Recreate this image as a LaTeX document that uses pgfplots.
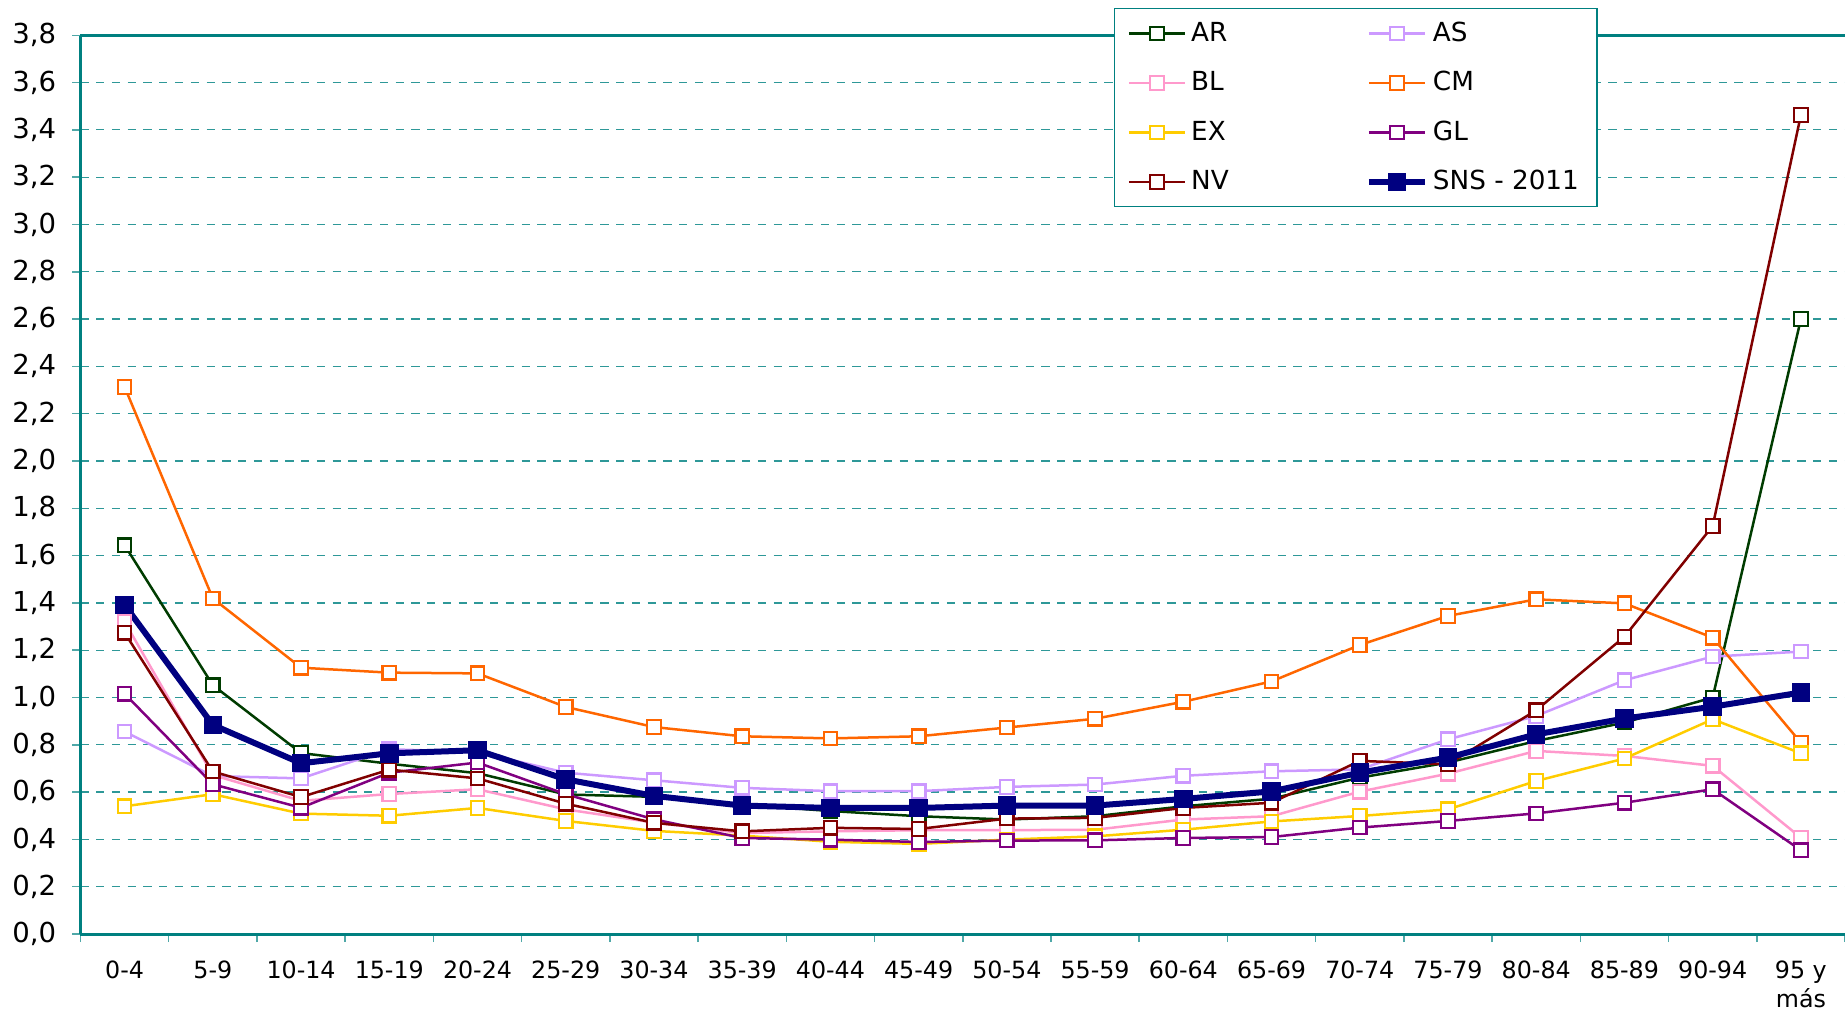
\documentclass[border=0pt]{standalone}
\usepackage{fontspec}
\setmainfont{DejaVu Sans}
\usepackage{pgfplots}
\pgfplotsset{compat=1.18}
\definecolor{axteal}{HTML}{008080}
\definecolor{gridteal}{HTML}{2E9898}
\definecolor{tickteal}{HTML}{4FA8A8}
\definecolor{cAR}{HTML}{003C00}
\definecolor{cAS}{HTML}{CC99FF}
\definecolor{cBL}{HTML}{FF99CC}
\definecolor{cCM}{HTML}{FF6600}
\definecolor{cEX}{HTML}{FFCC00}
\definecolor{cGL}{HTML}{800080}
\definecolor{cNV}{HTML}{800000}
\definecolor{cSNS}{HTML}{000080}
\pgfplotsset{
  thin series/.style={color=#1, line width=1pt, mark=square*, mark size=2.7pt,
    mark options={solid, draw=#1, fill=white, line width=0.9pt}},
}
\begin{document}
\begin{tikzpicture}
\begin{axis}[
  scale only axis, width=705.8pt, height=359.5pt,
  xmin=-0.5, xmax=19.5, ymin=0, ymax=3.8,
  axis x line*=bottom, axis y line*=left,
  axis line style={axteal, line width=1.2pt},
  xtick={0,...,19},
  xticklabels={0-4,5-9,10-14,15-19,20-24,25-29,30-34,35-39,40-44,45-49,50-54,55-59,60-64,65-69,70-74,75-79,80-84,85-89,90-94,{95 y\\más}},
  major x tick style={draw=none},
  minor xtick={-0.5,0.5,...,19.5},
  ytick={0,0.2,0.4,0.6,0.8,1,1.2,1.4,1.6,1.8,2,2.2,2.4,2.6,2.8,3,3.2,3.4,3.6,3.8},
  tick align=outside, major tick length=3.2pt, minor tick length=3.2pt,
  tick style={draw=tickteal, line width=0.6pt},
  ymajorgrids,
  major grid style={draw=gridteal, dash pattern=on 3.3pt off 3pt, line width=0.5pt},
  extra y ticks={3.8}, extra y tick labels={},
  extra y tick style={major grid style={solid, draw=axteal, line width=1.2pt}},
  /pgf/number format/use comma, /pgf/number format/fixed,
  /pgf/number format/fixed zerofill, /pgf/number format/precision=1,
  /pgf/number format/assume math mode=true,
  yticklabel style={font=\fontsize{11}{13}\selectfont, xshift=-3pt},
  xticklabel style={font=\fontsize{9.5}{11.6}\selectfont, align=center, yshift=-4pt},
  legend columns=2,
  legend style={at={(0.5857,1.0326)}, anchor=north west, draw=axteal, line width=0.6pt,
    fill=white, font=\fontsize{10.5}{12}\selectfont, inner xsep=5.2pt, inner ysep=0pt,
    row sep=0pt, column sep=0pt, yshift=-0.8pt,
    cells={anchor=west, inner xsep=0pt, inner ysep=0pt, minimum height=19.8pt}},
  legend image code/.code={\draw[mark repeat=2,mark phase=2,#1] plot coordinates {(0pt,0pt) (11.2pt,0pt) (22.4pt,0pt)};},
]
\addplot[thin series=cAR] coordinates {(0,1.644)(1,1.052)(2,0.765)(3,0.72)(4,0.68)(5,0.59)(6,0.58)(7,0.547)(8,0.52)(9,0.498)(10,0.484)(11,0.498)(12,0.54)(13,0.572)(14,0.661)(15,0.725)(16,0.816)(17,0.894)(18,1.0)(19,2.60)};
\addlegendentry{\makebox[67.9pt][l]{AR}}
\addplot[thin series=cAS] coordinates {(0,0.856)(1,0.668)(2,0.658)(3,0.781)(4,0.77)(5,0.682)(6,0.650)(7,0.618)(8,0.604)(9,0.604)(10,0.622)(11,0.632)(12,0.669)(13,0.688)(14,0.696)(15,0.823)(16,0.922)(17,1.073)(18,1.173)(19,1.194)};
\addlegendentry{AS}
\addplot[thin series=cBL] coordinates {(0,1.32)(1,0.672)(2,0.563)(3,0.592)(4,0.612)(5,0.527)(6,0.471)(7,0.427)(8,0.434)(9,0.439)(10,0.439)(11,0.441)(12,0.484)(13,0.498)(14,0.602)(15,0.678)(16,0.774)(17,0.753)(18,0.711)(19,0.407)};
\addlegendentry{\makebox[67.9pt][l]{BL}}
\addplot[thin series=cCM] coordinates {(0,2.313)(1,1.419)(2,1.126)(3,1.105)(4,1.102)(5,0.960)(6,0.875)(7,0.836)(8,0.827)(9,0.836)(10,0.873)(11,0.910)(12,0.982)(13,1.068)(14,1.222)(15,1.345)(16,1.415)(17,1.398)(18,1.253)(19,0.809)};
\addlegendentry{CM}
\addplot[thin series=cEX] coordinates {(0,0.540)(1,0.591)(2,0.509)(3,0.500)(4,0.533)(5,0.478)(6,0.436)(7,0.416)(8,0.390)(9,0.381)(10,0.399)(11,0.413)(12,0.441)(13,0.476)(14,0.499)(15,0.527)(16,0.647)(17,0.742)(18,0.908)(19,0.764)};
\addlegendentry{\makebox[67.9pt][l]{EX}}
\addplot[thin series=cGL] coordinates {(0,1.016)(1,0.633)(2,0.534)(3,0.682)(4,0.725)(5,0.591)(6,0.485)(7,0.406)(8,0.399)(9,0.389)(10,0.395)(11,0.396)(12,0.406)(13,0.410)(14,0.450)(15,0.478)(16,0.510)(17,0.555)(18,0.612)(19,0.354)};
\addlegendentry{GL}
\addplot[thin series=cNV] coordinates {(0,1.274)(1,0.687)(2,0.579)(3,0.695)(4,0.658)(5,0.551)(6,0.470)(7,0.434)(8,0.449)(9,0.444)(10,0.488)(11,0.491)(12,0.533)(13,0.555)(14,0.732)(15,0.718)(16,0.946)(17,1.257)(18,1.725)(19,3.463)};
\addlegendentry{\makebox[67.9pt][l]{NV}}
\addplot[color=cSNS, line width=2.4pt, mark=square*, mark size=3.5pt, mark options={solid, draw=cSNS, fill=cSNS, line width=0.4pt}] coordinates {(0,1.391)(1,0.884)(2,0.722)(3,0.764)(4,0.777)(5,0.654)(6,0.584)(7,0.543)(8,0.533)(9,0.533)(10,0.543)(11,0.543)(12,0.571)(13,0.603)(14,0.682)(15,0.746)(16,0.844)(17,0.911)(18,0.961)(19,1.021)};
\addlegendentry{SNS - 2011}
\end{axis}
\pgfresetboundingbox
\path[use as bounding box] (-32.2pt,-31.2pt) rectangle (705.8pt,373.6pt);
\end{tikzpicture}
\end{document}
